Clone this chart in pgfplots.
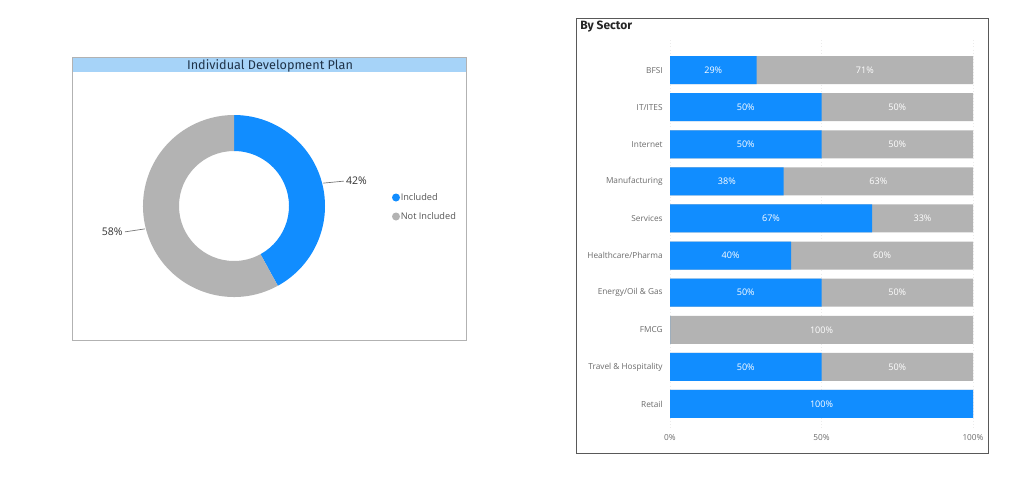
\documentclass[border=0pt]{standalone}
\usepackage{pgfplots}
\pgfplotsset{compat=1.18}
\usepackage{pgfplotstable}
\usepackage{fontspec}
\setmainfont{Open Sans}
\newfontfamily\titlefont{Fira Sans}
\pgfkeys{/pgf/number format/assume math mode=true}
\definecolor{pbblue}{HTML}{118DFF}
\definecolor{pbgray}{HTML}{B3B3B3}
\definecolor{titlebar}{HTML}{A6D3F8}
\definecolor{titletext}{HTML}{1F3349}
\definecolor{labgray}{HTML}{6B6B6B}
\definecolor{legtext}{HTML}{555555}

\pgfplotstableread{
label value
Included 42
NotIncluded 58
}\donutdata

\pgfplotstableread{
y inc not
0 28.57 71.43
1 50 50
2 50 50
3 37.5 62.5
4 66.67 33.33
5 40 60
6 50 50
7 0 100
8 50 50
9 100 0
}\sectordata

\begin{document}
\begin{tikzpicture}[x=0.75pt,y=-0.75pt]
\useasboundingbox[fill=white] (0,0) rectangle (1024,476);
\coordinate (donutc) at (234,206);
\coordinate (barnw) at (670,40);
% ---------- left panel ----------
\draw[draw=black!30, line width=0.75pt] (72.5,57.5) rectangle (466.5,340);
\fill[titlebar] (73,58) rectangle (466,72);
\node[font=\titlefont\fontsize{9.5}{10}\selectfont, text=titletext] at (270,65.5) {Individual Development Plan};

\pgfplotstablegetelem{0}{value}\of\donutdata \let\vinc\pgfplotsretval
\pgfplotstablegetelem{1}{value}\of\donutdata \let\vnot\pgfplotsretval
\pgfmathsetmacro\aend{90-3.6*\vinc}
\pgfmathsetmacro\aendnot{\aend-3.6*\vnot}
\pgfmathsetmacro\amidinc{90-1.8*\vinc}
\pgfmathsetmacro\amidnot{\aend-1.8*\vnot}

\begin{axis}[at={(donutc)}, anchor=center, x=0.75pt, y=0.75pt,
  xmin=-150, xmax=150, ymin=-100, ymax=100, hide axis, clip=false]
 \begin{scope}[shift={(axis cs:0,0)}]
  \fill[pbblue] (90:68.25pt) arc[start angle=90, end angle=\aend, radius=68.25pt]
     -- (\aend:41.25pt) arc[start angle=\aend, end angle=90, radius=41.25pt] -- cycle;
  \fill[pbgray] (\aend:68.25pt) arc[start angle=\aend, end angle=\aendnot, radius=68.25pt]
     -- (\aendnot:41.25pt) arc[start angle=\aendnot, end angle=\aend, radius=41.25pt] -- cycle;
  \draw[black!55, line width=0.5pt] (\amidinc:69pt) -- ++(15.5pt,1.5pt)
     node[anchor=west, inner sep=1.5pt, text=black!80, font=\fontsize{7.9}{9}\selectfont] {\pgfmathprintnumber{\vinc}\%};
  \draw[black!55, line width=0.5pt] (\amidnot:69pt) -- ++(-15pt,-2.25pt)
     node[anchor=east, inner sep=1.5pt, text=black!80, font=\fontsize{7.9}{9}\selectfont] {\pgfmathprintnumber{\vnot}\%};
 \end{scope}
\end{axis}
% legend
\fill[pbblue] (396,197.5) circle[radius=3pt];
\node[anchor=west, inner sep=0pt, text=legtext, font=\fontsize{6.9}{8}\selectfont] at (400.5,197.5) {Included};
\fill[pbgray] (396,216.5) circle[radius=3pt];
\node[anchor=west, inner sep=0pt, text=legtext, font=\fontsize{6.9}{8}\selectfont] at (400.5,216.5) {Not Included};

% ---------- right panel ----------
\draw[draw=black!65, line width=0.75pt] (576.5,18.5) rectangle (988,453);
\node[anchor=north west, inner sep=0pt, text=black!85, font=\titlefont\bfseries\fontsize{9}{10}\selectfont] at (580,21) {By Sector};

\begin{axis}[at={(barnw)}, anchor=north west,
  x=2.2725pt, y=27.825pt, y dir=reverse,
  xmin=0, xmax=100, ymin=-0.81, ymax=9.70,
  axis line style={draw=none}, major tick length=0pt,
  ytick={0,...,9},
  yticklabels={BFSI, IT/ITES, Internet, Manufacturing, Services, Healthcare/Pharma, Energy/Oil \& Gas, FMCG, Travel \& Hospitality, Retail},
  xtick={0,50,100}, xticklabels={0\%,50\%,100\%},
  ticklabel style={font=\fontsize{6.2}{7}\selectfont, text=labgray},
  yticklabel style={xshift=-2pt},
  xmajorgrids, grid style={black!8, dotted},
  clip=false]
 \addplot[xbar, bar width=21pt, bar shift=0pt, fill=pbgray, draw=none]
   table[x expr=\thisrow{inc}+\thisrow{not}, y=y] {\sectordata};
 \addplot[xbar, bar width=21pt, bar shift=0pt, fill=pbblue, draw=none]
   table[x=inc, y=y] {\sectordata};
 \addplot[draw=none, mark=none, point meta=\thisrow{inc},
   x filter/.expression={\thisrow{inc}==0 ? nan : x},
   nodes near coords={\pgfmathprintnumber[fixed,precision=0,assume math mode=true]{\pgfplotspointmeta}\%},
   nodes near coords align={center},
   every node near coord/.append style={anchor=center, text=white, font=\fontsize{6.8}{8}\selectfont}]
   table[x expr=\thisrow{inc}/2, y=y] {\sectordata};
 \addplot[draw=none, mark=none, point meta=\thisrow{not},
   x filter/.expression={\thisrow{not}==0 ? nan : x},
   nodes near coords={\pgfmathprintnumber[fixed,precision=0,assume math mode=true]{\pgfplotspointmeta}\%},
   nodes near coords align={center},
   every node near coord/.append style={anchor=center, text=white, font=\fontsize{6.8}{8}\selectfont}]
   table[x expr=\thisrow{inc}+\thisrow{not}/2, y=y] {\sectordata};
\end{axis}
\end{tikzpicture}
\end{document}
